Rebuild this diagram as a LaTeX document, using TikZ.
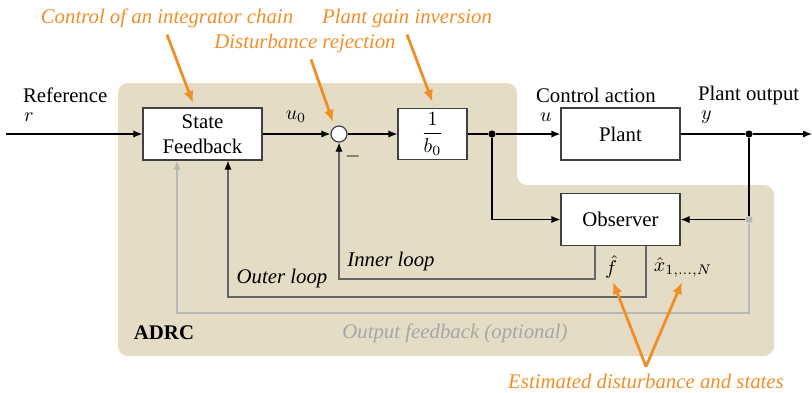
\documentclass[tikz,border=0pt]{standalone}
\usepackage{amsmath}
\usepackage{fontspec}
\setmainfont{LiberationSerif}[Extension=.ttf,UprightFont=*-Regular,ItalicFont=*-Italic,BoldFont=*-Bold,BoldItalicFont=*-BoldItalic]
\usetikzlibrary{arrows.meta}
\definecolor{adrcbg}{RGB}{228,220,196}
\definecolor{noteorange}{RGB}{242,142,40}

\begin{document}
\begin{tikzpicture}[x=0.5pt,y=-0.5pt,font=\rmfamily\fontsize{10.4}{12.5}\selectfont,
  blk/.style={draw=black!75,fill=white,line width=0.6pt,minimum width=59.5pt,minimum height=26pt,align=center,inner sep=1pt},
  sig/.style={line width=0.6pt,-{Latex[length=4.5pt,width=3.6pt]}},
  loopline/.style={line width=0.6pt,draw=black!60,-{Latex[length=4.5pt,width=3.6pt,color=black]}},
  optline/.style={line width=0.6pt,draw=black!28,-{Latex[length=4.5pt,width=3.6pt,color=black!28]}},
  note/.style={text=noteorange,font=\rmfamily\fontsize{10.4}{12.5}\selectfont\itshape},
  notearrow/.style={draw=noteorange,line width=1.4pt,-{Latex[length=6pt,width=5pt]}},
  dot/.style={circle,fill=black,inner sep=0pt,minimum size=3.6pt}]
\useasboundingbox (0,0) rectangle (812,392);
\fill[adrcbg,rounded corners=5pt] (118,83) -- (517,83) -- (517,185) -- (774,185) -- (774,356) -- (118,356) -- cycle;
\node[blk] (sf) at (202.5,134) {State\\Feedback};
\node[circle,draw=black!75,fill=white,line width=0.6pt,minimum size=8pt,inner sep=0pt] (sum) at (339,134) {};
\node[blk,minimum width=34.5pt,minimum height=25.5pt] (gain) at (432.5,134) {$\dfrac{1}{b_0}$};
\node[blk] (plant) at (620.5,134) {Plant};
\node[blk] (obs) at (620.5,219.5) {Observer};
\node[dot] (ju) at (492,134) {};
\node[dot] (jy) at (749,134) {};
\node[circle,fill=black!28,inner sep=0pt,minimum size=3.6pt] (jo) at (749,219.5) {};
\coordinate (in) at (6,134);
\coordinate (out) at (812,134);
\coordinate (fbr) at (749,313);
\coordinate (fbl) at (177,313);
\coordinate (olr) at (646,297);
\coordinate (oll) at (228,297);
\coordinate (ilr) at (595,279);
\coordinate (ill) at (339,279);
\draw[sig] (in) -- (sf);
\draw[sig] (sf) -- (sum);
\draw[sig] (sum) -- (gain);
\draw[line width=0.6pt] (gain) -- (ju);
\draw[sig] (ju) -- (plant);
\draw[line width=0.6pt] (plant) -- (jy);
\draw[sig] (jy) -- (out);
\draw[sig] (ju) |- (obs);
\draw[line width=0.6pt] (jy) -- (jo);
\draw[sig] (jo) -- (obs);
\draw[optline] (jo) -- (fbr) -- (fbl) -- (fbl |- sf.south);
\draw[loopline] (obs.south -| olr) -- (olr) -- (oll) -- (oll |- sf.south);
\draw[loopline] (obs.south -| ilr) -- (ilr) -- (ill) -- (sum.south);
\node[anchor=west] (reflbl) at (16,95) {Reference};
\node[anchor=west] (rlbl) at (17,117) {$r$};
\node (u0lbl) at (296,117) {$u_0$};
\node (minus) at (353,156) {$-$};
\node[anchor=west] (ulbl) at (529,95) {Control action};
\node[anchor=west] (ulbl2) at (533,117) {$u$};
\node[anchor=west] (ylbl) at (691,95) {Plant output};
\node[anchor=west] (ylbl2) at (694,117) {$y$};
\node[inner sep=1pt] (fhat) at (611,267) {$\hat{f}$};
\node[inner sep=1pt] (xhat) at (683,267) {$\hat{x}_{1,\dots,N}$};
\node[font=\rmfamily\fontsize{10.4}{12.5}\selectfont\itshape] (inlbl) at (391,261) {Inner loop};
\node[font=\rmfamily\fontsize{10.4}{12.5}\selectfont\itshape] (outlbl) at (282,278) {Outer loop};
\node[font=\rmfamily\fontsize{10.4}{12.5}\selectfont\bfseries] (adrc) at (164,333) {ADRC};
\node[text=black!35,font=\rmfamily\fontsize{10.4}{12.5}\selectfont\itshape] (optlbl) at (455,333) {Output feedback (optional)};
\node[note] (nint) at (167,18) {Control of an integrator chain};
\node[note] (ndist) at (305,43) {Disturbance rejection};
\node[note] (ngain) at (407,18) {Plant gain inversion};
\node[note] (nest) at (646,381) {Estimated disturbance and states};
\coordinate (tint) at (193,103);
\coordinate (tdist) at (333,122);
\coordinate (tf) at (613,282);
\coordinate (tx) at (682,282);
\draw[notearrow] (nint.south) -- (tint);
\draw[notearrow] ([xshift=3pt]ndist.south) -- (tdist);
\draw[notearrow] (ngain.south) -- ([yshift=3pt]gain.north);
\draw[notearrow] (nest.north) -- (tf);
\draw[notearrow] (nest.north) -- (tx);
\end{tikzpicture}
\end{document}
